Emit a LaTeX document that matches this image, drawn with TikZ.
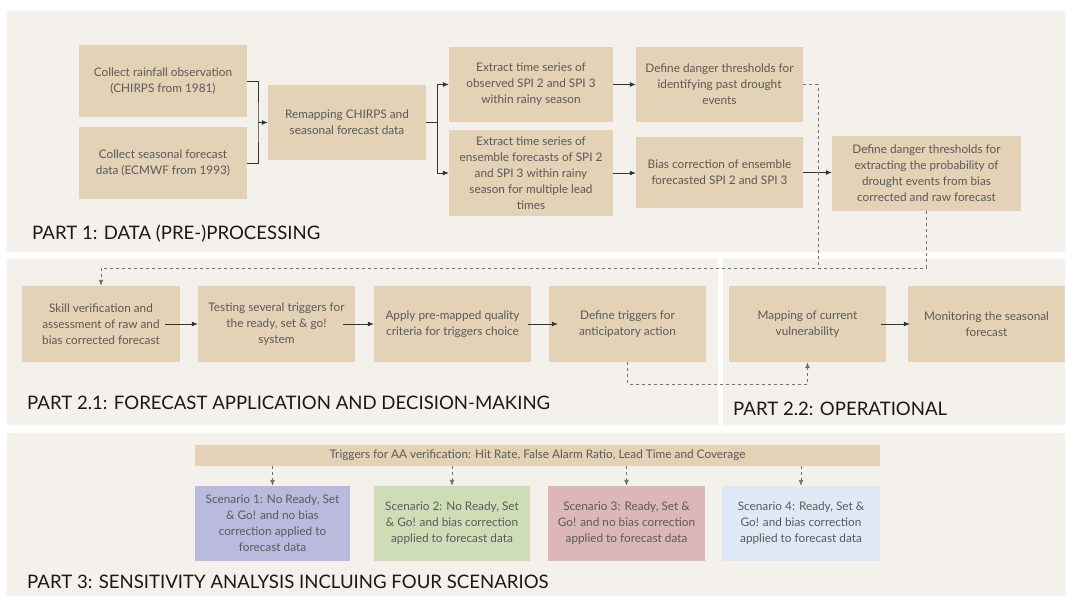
\documentclass[tikz,border=0pt]{standalone}
\usepackage{fontspec}
\setmainfont{Lato}
\usetikzlibrary{arrows.meta,calc}
\usepackage{color}

\definecolor{panelbg}{HTML}{F4F1EC}
\definecolor{boxtan}{HTML}{E3D2B5}
\definecolor{boxtext}{HTML}{5A5A5A}
\definecolor{scenA}{HTML}{BABADE}
\definecolor{scenB}{HTML}{CFDDB6}
\definecolor{scenC}{HTML}{DDB7B7}
\definecolor{scenD}{HTML}{DEE9F5}

\begin{document}
\begin{tikzpicture}
      [x = 1pt, y = -1pt,
      panel/.style = {fill = panelbg, draw = none},
      box/.style = {
         fill = boxtan,
         draw = none,
         align = center,
         inner sep = 2pt,
         text = boxtext,
         font = \fontsize{11.8}{16}\selectfont
      },
      title/.style = {
         anchor = west,
         inner sep = 0pt,
         text = black!90,
         font = \fontsize{18.6}{22}\selectfont
      },
      link/.style = {-{Latex[length = 6pt, width = 5pt]}, line width = 0.8pt, draw = black!80},
      line/.style = {line width = 0.8pt, draw = black!80},
      dlink/.style = {-{Latex[length = 6pt, width = 5pt]}, dashed, line width = 0.8pt, draw = black!55}]
      \useasboundingbox (0, 0) rectangle (1067, 596);

      \fill[panel] (7, 11) rectangle (1065, 252);
      \fill[panel] (7, 259) rectangle (718, 425);
      \fill[panel] (723, 259) rectangle (1065, 425);
      \fill[panel] (7, 433) rectangle (1065, 596);

      % part 1
      \node[box, minimum width = 168pt, minimum height = 72pt] (obs) at (163, 81)
         {Collect rainfall observation\\(CHIRPS from 1981)};
      \node[box, minimum width = 168pt, minimum height = 72pt] (seas) at (163, 163)
         {Collect seasonal forecast\\data (ECMWF from 1993)};
      \node[box, minimum width = 158pt, minimum height = 75pt] (remap) at (347, 122.5)
         {Remapping CHIRPS and\\seasonal forecast data};
      \node[box, minimum width = 164pt, minimum height = 75pt] (extobs) at (531, 84.5)
         {Extract time series of\\observed SPI 2 and SPI 3\\within rainy season};
      \node[box, minimum width = 164pt, minimum height = 86pt] (extens) at (531, 173)
         {Extract time series of\\ensemble forecasts of SPI 2\\and SPI 3 within rainy\\season for multiple lead\\times};
      \node[box, minimum width = 167pt, minimum height = 75pt] (thrpast) at (719.5, 84.5)
         {Define danger thresholds for\\identifying past drought\\events};
      \node[box, minimum width = 167pt, minimum height = 71pt] (bias) at (719.5, 172.5)
         {Bias correction of ensemble\\forecasted SPI 2 and SPI 3};
      \node[box, minimum width = 189pt, minimum height = 75pt] (thrprob) at (926.5, 173.5)
         {Define danger thresholds for\\extracting the probability of\\drought events from bias\\corrected and raw forecast};
      \node[title] (t1) at (32, 234) {PART 1: DATA (PRE-)PROCESSING};

      \coordinate (j1) at (258, 122.5);
      \coordinate (j2) at (437, 122.5);
      \draw[line] (obs.east) -| (j1) |- (seas.east);
      \draw[link] (j1) -- (remap.west);
      \draw[line] (remap.east) -- (j2);
      \draw[link] (j2) |- (extobs.west);
      \draw[link] (j2) |- (extens.west);
      \draw[link] (extobs.east) -- (thrpast.west);
      \draw[link] (extens.east) -- (extens.east -| bias.west);
      \draw[link] (bias.east) -- (bias.east -| thrprob.west);

      % part 2
      \node[box, minimum width = 158pt, minimum height = 76pt] (skill) at (101, 324)
         {Skill verification and\\assessment of raw and\\bias corrected forecast};
      \node[box, minimum width = 157pt, minimum height = 76pt] (test) at (276.5, 324)
         {Testing several triggers for\\the ready, set \& go!\\system};
      \node[box, minimum width = 157pt, minimum height = 76pt] (crit) at (452.5, 324)
         {Apply pre-mapped quality\\criteria for triggers choice};
      \node[box, minimum width = 157pt, minimum height = 76pt] (trig) at (627.5, 324)
         {Define triggers for\\anticipatory action};
      \node[box, minimum width = 157pt, minimum height = 76pt] (vuln) at (807.5, 324)
         {Mapping of current\\vulnerability};
      \node[box, minimum width = 157pt, minimum height = 76pt] (mon) at (986.5, 324)
         {Monitoring the seasonal\\forecast};
      \node[title] (t21) at (27, 403) {PART 2.1: FORECAST APPLICATION AND DECISION-MAKING};
      \node[title] (t22) at (733, 409) {PART 2.2: OPERATIONAL};

      \coordinate (k1) at (818, 268);
      \coordinate (k2) at (101, 268);
      \draw[dlink, -] (thrpast.east) -| (k1);
      \draw[dlink] (thrprob.south) |- (k2) -- (skill.north);
      \draw[link] ([xshift = -15pt]skill.east) -- (test.west);
      \draw[link] ([xshift = -12pt]test.east) -- (crit.west);
      \draw[link] ([xshift = -3pt]crit.east) -- ([xshift = 9pt]trig.west);
      \draw[link] ([xshift = -5pt]vuln.east) -- ([xshift = 2pt]mon.west);
      \draw[dlink] (trig.south) -- ++(0, 22) -| (vuln.south);

      % part 3
      \node[box, minimum width = 685pt, minimum height = 21pt, inner sep = 0pt] (aa) at (537.5, 455.5)
         {Triggers for AA verification: Hit Rate, False Alarm Ratio, Lead Time and Coverage};
      \node[box, fill = scenA, minimum width = 155pt, minimum height = 75pt] (sc1) at (272.5, 523.5)
         {Scenario 1: No Ready, Set\\\& Go! and no bias\\correction applied to\\forecast data};
      \node[box, fill = scenB, minimum width = 156pt, minimum height = 75pt] (sc2) at (452, 523.5)
         {Scenario 2: No Ready, Set\\\& Go! and bias correction\\applied to forecast data};
      \node[box, fill = scenC, minimum width = 157pt, minimum height = 75pt] (sc3) at (626.5, 523.5)
         {Scenario 3: Ready, Set \&\\Go! and no bias correction\\applied to forecast data};
      \node[box, fill = scenD, minimum width = 158pt, minimum height = 75pt] (sc4) at (801, 523.5)
         {Scenario 4: Ready, Set \&\\Go! and bias correction\\applied to forecast data};
      \node[title] (t3) at (27, 582) {PART 3: SENSITIVITY ANALYSIS INCLUING FOUR SCENARIOS};

      \foreach \s in {sc1, sc2, sc3, sc4}
         \draw[dlink] (\s.north |- aa.south) -- (\s.north);

   \end{tikzpicture}
\end{document}
